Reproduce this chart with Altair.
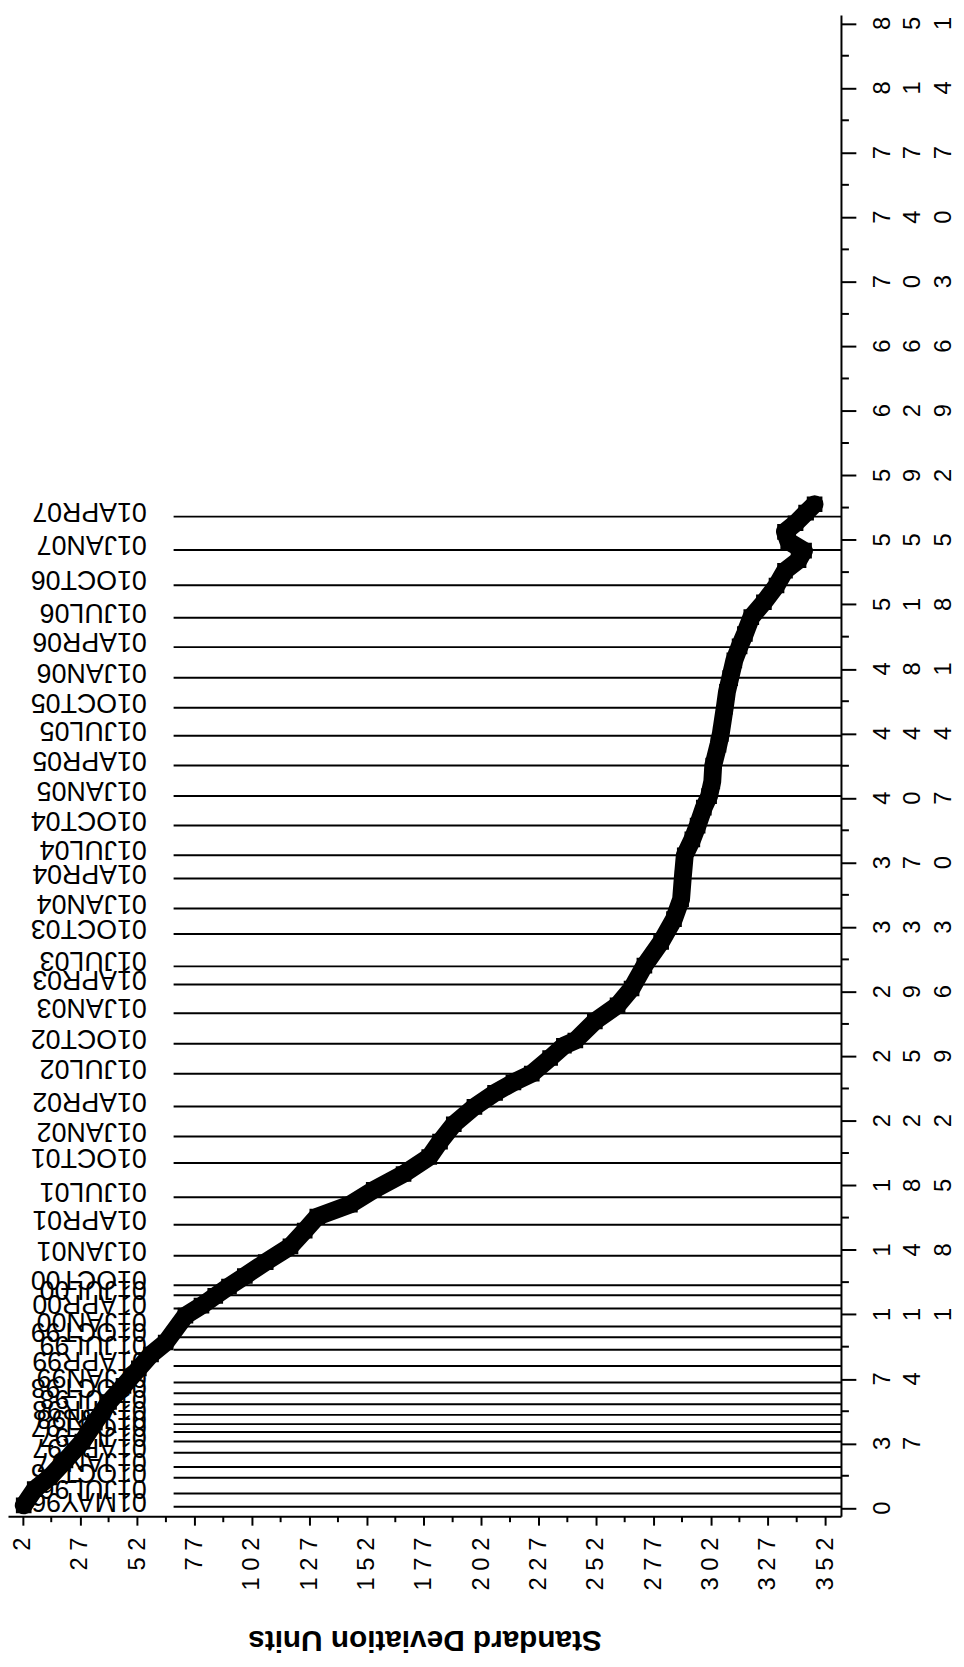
import altair as alt
import pandas as pd

# ---- data ----
sd_units = [2.5, 7.3, 13.8, 20.7, 28.1, 33.5, 39.7, 46.0, 52.7, 58.0,
            64.4, 73.0, 80.0, 86.0, 92.0, 98.9, 108.0, 118.8, 125.0, 130.5,
            144.7, 155.1, 168.1, 179.3, 184.0, 190.0, 199.0, 208.0, 216.0, 224.0,
            232.0, 238.0, 243.0, 251.5, 261.4, 267.5, 273.1, 280.4, 286.0, 289.1,
            289.8, 290.7, 294.0, 296.3, 299.0, 301.3, 302.7, 303.1, 305.4, 306.4,
            308.2, 309.1, 310.5, 312.3, 314.6, 316.9, 319.7, 325.2, 330.7, 334.4,
            340.3, 342.7, 335.8, 334.4, 339.0, 343.6, 347.3]
obs_index = [1.5, 10.8, 17.6, 27.3, 38.1, 49.0, 60.8, 70.0, 80.1, 88.0,
             94.9, 110.3, 116.0, 121.6, 127.0, 133.0, 141.0, 150.0, 159.0, 167.1,
             173.9, 182.4, 191.5, 201.2, 210.0, 220.0, 230.0, 238.0, 244.0, 249.0,
             258.0, 265.0, 268.0, 279.0, 288.2, 297.8, 310.9, 324.5, 337.6, 349.0,
             360.9, 374.2, 383.3, 391.2, 401.5, 408.1, 416.5, 425.6, 437.6, 443.7,
             459.4, 467.9, 475.7, 485.9, 493.9, 501.0, 510.7, 519.2, 528.8, 537.3,
             543.3, 548.8, 554.2, 559.6, 564.5, 570.6, 575.4]

ref_dates = ["01APR07", "01JAN07", "01OCT06", "01JUL06", "01APR06", "01JAN06",
             "01OCT05", "01JUL05", "01APR05", "01JAN05", "01OCT04", "01JUL04",
             "01APR04", "01JAN04", "01OCT03", "01JUL03", "01APR03", "01JAN03",
             "01OCT02", "01JUL02", "01APR02", "01JAN02", "01OCT01", "01JUL01",
             "01APR01", "01JAN01", "01OCT00", "01JUL00", "01APR00", "01JAN00",
             "01OCT99", "01JUL99", "01APR99", "01JAN99", "01OCT98", "01JUL98",
             "01APR98", "01JAN98", "01OCT97", "01JUL97", "01APR97", "01JAN97",
             "01OCT96", "01JUL96", "01MAY96"]
ref_index = [568.3, 549.2, 529.0, 510.4, 493.5, 475.9,
             458.8, 442.7, 425.6, 408.1, 391.2, 374.2,
             360.9, 343.7, 329.1, 310.5, 300.1, 283.6,
             266.2, 248.9, 230.2, 213.0, 197.8, 178.1,
             162.4, 144.6, 127.7, 122.0, 114.4, 104.0,
             97.9, 90.8, 81.4, 72.0, 65.8, 59.5,
             53.4, 48.1, 43.6, 38.2, 31.7, 23.5,
             17.4, 8.4, 0.8]

x_ticks = [2, 27, 52, 77, 102, 127, 152, 177, 202, 227, 252, 277, 302, 327, 352]
x_minor = [14.5, 39.5, 64.5, 89.5, 114.5, 139.5, 164.5, 189.5, 214.5, 239.5,
           264.5, 289.5, 314.5, 339.5]
y_ticks = [0, 37, 74, 111, 148, 185, 222, 259, 296, 333, 370, 407, 444, 481,
           518, 555, 592, 629, 666, 703, 740, 777, 814, 851]
y_minor = [18.5, 55.5, 92.5, 129.5, 166.5, 203.5, 240.5, 277.5, 314.5, 351.5,
           388.5, 425.5, 462.5, 499.5, 536.5, 573.5, 610.5, 647.5, 684.5, 721.5,
           758.5, 795.5, 832.5]

# ---- tables ----
pts = pd.DataFrame({"sd": sd_units, "idx": obs_index,
                    "ord": list(range(len(sd_units)))})
refs = pd.DataFrame({"idx": ref_index, "label": ref_dates})
xmin_df = pd.DataFrame({"xm": x_minor})
ymin_df = pd.DataFrame({"ym": y_minor})
ylab_df = pd.DataFrame({"v": y_ticks, "lab": [str(v) for v in y_ticks]})

W, H = 840, 1514
FONT = "Liberation Sans"
xscale = alt.Scale(domain=[-4.35, 358.8], nice=False, zero=False)
yscale = alt.Scale(domain=[-4.7, 855.9], nice=False, zero=False)

xaxis = alt.Axis(values=x_ticks, tickSize=9, tickWidth=2, tickColor="black",
                 domainColor="black", domainWidth=2, grid=False,
                 labelAngle=270, labelAlign="right", labelBaseline="middle",
                 labelFont=FONT, labelFontSize=24, labelColor="black",
                 labelPadding=12, labelOverlap=False, labelFlush=False,
                 labelExpr="join(split(datum.label, ''), ' ')",
                 title="Standard Deviation Units", titleFont=FONT,
                 titleFontSize=30, titleFontWeight="bold", titleColor="black",
                 titleAngle=180, titleAlign="center", titleBaseline="alphabetic",
                 titleX=W / 2, titleY=115)
yaxis = alt.Axis(orient="right", values=y_ticks, tickSize=15, tickWidth=2,
                 tickColor="black", domainColor="black", domainWidth=2,
                 grid=False, labels=False, title="")

rules = alt.Chart(refs).mark_rule(color="black", strokeWidth=2).encode(
    y=alt.Y("idx:Q", scale=yscale, axis=yaxis),
    x=alt.value(167), x2=alt.value(W))

date_labels = alt.Chart(refs).mark_text(
    angle=180, align="left", baseline="alphabetic", dy=14,
    font=FONT, fontSize=27, color="black").encode(
    y=alt.Y("idx:Q", scale=yscale, axis=yaxis),
    x=alt.value(140), text="label:N")

band = alt.Chart(pts).mark_line(color="black", strokeWidth=18,
                                strokeJoin="round", strokeCap="round").encode(
    x=alt.X("sd:Q", scale=xscale, axis=xaxis),
    y=alt.Y("idx:Q", scale=yscale, axis=yaxis),
    order="ord:Q")

squares = alt.Chart(pts).mark_point(shape="square", size=190, filled=False,
                                    color="black", strokeWidth=2, opacity=1).encode(
    x=alt.X("sd:Q", scale=xscale, axis=xaxis),
    y=alt.Y("idx:Q", scale=yscale, axis=yaxis))

x_minor_ticks = alt.Chart(xmin_df).mark_rule(color="black", strokeWidth=2).encode(
    x=alt.X("xm:Q", scale=xscale, axis=xaxis),
    y=alt.value(H), y2=alt.value(H + 6))

y_minor_ticks = alt.Chart(ymin_df).mark_rule(color="black", strokeWidth=2).encode(
    y=alt.Y("ym:Q", scale=yscale, axis=yaxis),
    x=alt.value(W), x2=alt.value(W + 8))

digit_layers = []
for i, col in enumerate([882, 913, 944]):
    digit_layers.append(
        alt.Chart(ylab_df).transform_calculate(
            ch=f"substring(datum.lab, {i}, {i + 1})"
        ).transform_filter("datum.ch != ''").mark_text(
            angle=270, align="center", baseline="middle",
            font=FONT, fontSize=24, color="black").encode(
            y=alt.Y("v:Q", scale=yscale, axis=yaxis),
            x=alt.value(col), text="ch:N"))

chart = alt.layer(rules, date_labels, band, squares, x_minor_ticks,
                  y_minor_ticks, *digit_layers).properties(
    width=W, height=H,
    autosize=alt.AutoSizeParams(type="none"),
    padding={"left": 0, "top": 0, "right": 116, "bottom": 137},
    background="white",
).configure_view(strokeWidth=0)

chart.save("out.html", embed_options={"renderer": "svg", "actions": False})
